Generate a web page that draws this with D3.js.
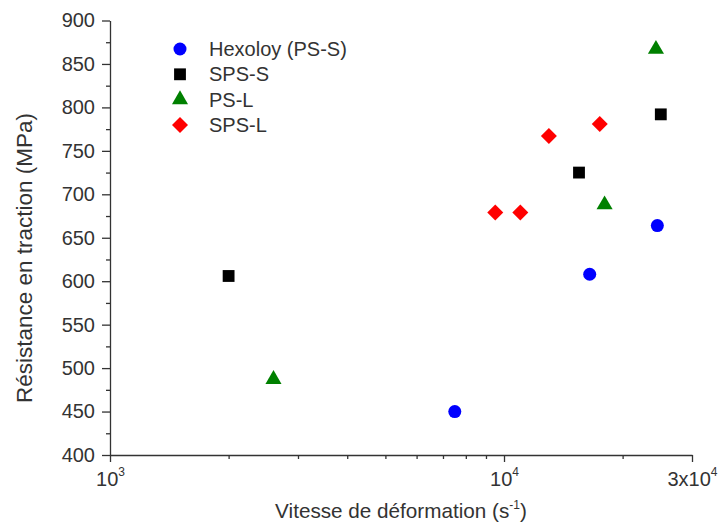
<!DOCTYPE html>
<html>
<head>
  <script src="https://d3js.org/d3.v7.min.js"></script>
  <style>
    body { margin: 0; background: #fff; }
    svg text { font-family: "Liberation Sans", Arial, sans-serif; fill: #333; }
    .axis path, .axis line { stroke: #333; stroke-width: 1.3; }
  </style>
</head>
<body>
  <svg id="chart" width="719" height="526"></svg>
  <script>
    // series data: strain rate (s-1) and tensile strength (MPa)
    var seriesNames = ['Hexoloy (PS-S)', 'SPS-S', 'PS-L', 'SPS-L'];
    var seriesColors = ['#0000ff', '#000000', '#008000', '#ff0000'];
    var hexoloyX = [7500, 16500, 24500];
    var hexoloyY = [450, 608, 664];
    var spssX = [2000, 15500, 25000];
    var spssY = [606, 725, 792];
    var pslX = [2600, 18000, 24300];
    var pslY = [487, 688, 867];
    var spslX = [9500, 11000, 13000, 17500];
    var spslY = [679, 679, 767, 781];

    var yTicks = [400, 450, 500, 550, 600, 650, 700, 750, 800, 850, 900];
    var xTicks = [1000, 10000, 30000];
    var xTickLabels = [['10', '3'], ['10', '4'], ['3x10', '4']];
    var xMinor = [2000, 3000, 4000, 5000, 6000, 7000, 8000, 9000, 20000];

    var svg = d3.select('#chart');
    var plotLeft = 110, plotRight = 692, plotTop = 20.5, plotBottom = 455;
    var fontSize = '20px';

    var x = d3.scaleLog().domain([1000, 30000]).range([plotLeft, plotRight]);
    var y = d3.scaleLinear().domain([400, 900]).range([plotBottom, plotTop]);

    // minor ticks
    svg.append('g')
      .attr('class', 'axis')
      .attr('transform', 'translate(0,' + plotBottom + ')')
      .call(d3.axisBottom(x).tickValues(xMinor).tickSize(4).tickFormat(''))
      .select('.domain').remove();
    var yMinor = d3.range(425, 900, 50);
    svg.append('g')
      .attr('class', 'axis')
      .attr('transform', 'translate(' + plotLeft + ',0)')
      .call(d3.axisLeft(y).tickValues(yMinor).tickSize(4).tickFormat(''))
      .select('.domain').remove();

    // major x axis
    var xAxis = svg.append('g')
      .attr('class', 'axis')
      .attr('transform', 'translate(0,' + plotBottom + ')')
      .call(d3.axisBottom(x).tickValues(xTicks).tickSize(7).tickSizeOuter(0).tickFormat(''));
    xAxis.selectAll('.tick').each(function (d, i) {
      var t = d3.select(this).append('text')
        .attr('y', 31)
        .attr('text-anchor', 'middle')
        .style('font-size', fontSize);
      t.append('tspan').text(xTickLabels[i][0]);
      t.append('tspan').attr('dy', '-10').style('font-size', '12px').text(xTickLabels[i][1]);
    });

    // major y axis
    svg.append('g')
      .attr('class', 'axis')
      .attr('transform', 'translate(' + plotLeft + ',0)')
      .call(d3.axisLeft(y).tickValues(yTicks).tickSize(8).tickSizeOuter(0).tickPadding(7))
      .selectAll('text')
      .style('font-size', fontSize)
      .style('fill', '#333');

    // axis titles
    var xt = svg.append('text')
      .attr('x', 401).attr('y', 518)
      .attr('text-anchor', 'middle')
      .style('font-size', '20.7px');
    xt.append('tspan').text('Vitesse de déformation (s');
    xt.append('tspan').attr('dy', -9).style('font-size', '12px').text('-1');
    xt.append('tspan').attr('dy', 9).text(')');

    svg.append('text')
      .attr('transform', 'translate(32,258) rotate(-90)')
      .attr('text-anchor', 'middle')
      .style('font-size', '22.5px')
      .text('Résistance en traction (MPa)');

    // markers
    var symbols = [
      d3.symbol().type(d3.symbolCircle).size(133),
      d3.symbol().type(d3.symbolSquare).size(140),
      d3.symbol().type(d3.symbolTriangle).size(112),
      d3.symbol().type(d3.symbolSquare).size(128)
    ];
    var rotations = [0, 0, 0, 45];
    var allX = [hexoloyX, spssX, pslX, spslX];
    var allY = [hexoloyY, spssY, pslY, spslY];

    allX.forEach(function (xs, s) {
      var pts = xs.map(function (v, i) { return [v, allY[s][i]]; });
      svg.append('g').selectAll('path')
        .data(pts)
        .enter()
        .append('path')
        .attr('d', symbols[s])
        .attr('fill', seriesColors[s])
        .attr('transform', function (d) {
          return 'translate(' + x(d[0]) + ',' + y(d[1]) + ') rotate(' + rotations[s] + ')';
        });
    });

    // legend
    var legend = svg.append('g').selectAll('g')
      .data(seriesNames)
      .enter()
      .append('g')
      .attr('transform', function (d, i) { return 'translate(180,' + (49 + i * 25.3) + ')'; });
    legend.append('path')
      .attr('d', function (d, i) { return symbols[i](); })
      .attr('fill', function (d, i) { return seriesColors[i]; })
      .attr('transform', function (d, i) { return 'rotate(' + rotations[i] + ')'; });
    legend.append('text')
      .attr('x', 29)
      .attr('dy', '0.35em')
      .style('font-size', fontSize)
      .text(function (d) { return d; });
  </script>
</body>
</html>
